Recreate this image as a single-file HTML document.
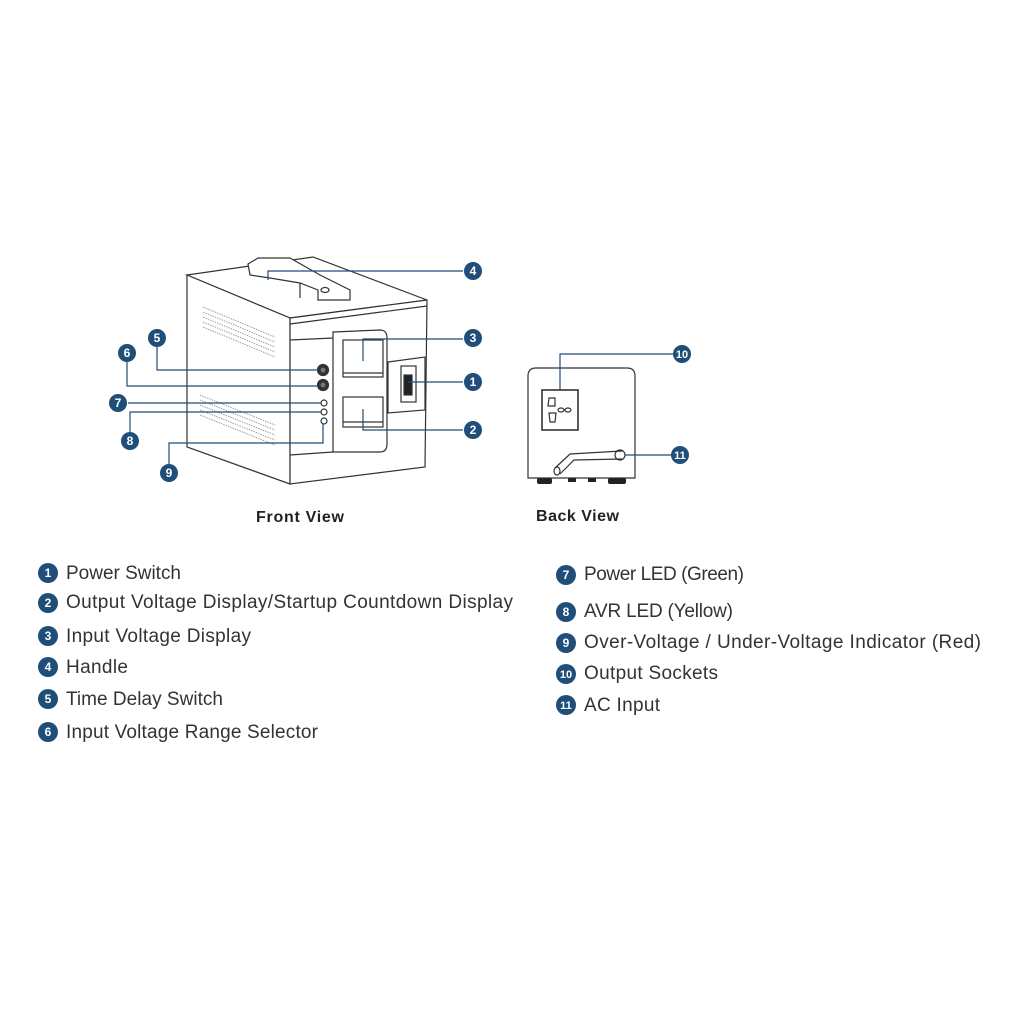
<!DOCTYPE html>
<html><head><meta charset="utf-8"><style>html,body{margin:0;padding:0;background:#fff}</style></head>
<body>
<svg width="1024" height="1024" viewBox="0 0 1024 1024" xmlns="http://www.w3.org/2000/svg" font-family="Liberation Sans, sans-serif">
<g fill="none" stroke="#333" stroke-width="1.2">
<!-- main box -->
<polygon points="187,275 313,257 427,300 290,318" fill="#fff"/>
<polygon points="187,275 290,318 290,484 187,447" fill="#fff"/>
<polygon points="290,318 427,300 425,467 290,484" fill="#fff"/>
<line x1="290" y1="324" x2="427" y2="306"/>
<!-- handle -->
<path d="M248,264 L258,258 L290,258 L320,275 L350,290 L350,300 L318,300 L318,290 L300,283 L270,278 L250,275 Z" fill="#fff"/>
<line x1="300" y1="283" x2="300" y2="298"/>
<ellipse cx="325" cy="290" rx="4" ry="2.5"/>
<!-- front panels -->
<line x1="290" y1="340" x2="333" y2="338"/>
<line x1="290" y1="455" x2="333" y2="452"/>
<path d="M333,332 L380,330 Q387,330 387,338 L387,444 Q387,452 380,452 L333,452 Z"/>
<rect x="343" y="340" width="40" height="37"/>
<line x1="343" y1="373" x2="383" y2="373"/>
<rect x="343" y="397" width="40" height="30"/>
<line x1="343" y1="422" x2="383" y2="422"/>
<polygon points="388,362 425,357 425,410 388,413"/>
<rect x="401" y="366" width="15" height="36"/>
<rect x="404" y="375" width="8" height="20" fill="#222"/>
<circle cx="323" cy="370" r="5.5" fill="#333"/><circle cx="323" cy="370" r="3" fill="#777"/>
<circle cx="323" cy="385" r="5.5" fill="#333"/><circle cx="323" cy="385" r="3" fill="#777"/>
<circle cx="324" cy="403" r="3"/><circle cx="324" cy="412" r="3"/><circle cx="324" cy="421" r="3"/>
</g>
<!-- vents -->
<g stroke="#888" stroke-width="0.8" stroke-dasharray="1.5,1">
<line x1="203" y1="307" x2="275" y2="337"/><line x1="203" y1="312" x2="275" y2="342"/><line x1="203" y1="317" x2="275" y2="347"/><line x1="203" y1="322" x2="275" y2="352"/><line x1="203" y1="327" x2="275" y2="357"/>
<line x1="200" y1="395" x2="275" y2="425"/><line x1="200" y1="400" x2="275" y2="430"/><line x1="200" y1="405" x2="275" y2="435"/><line x1="200" y1="410" x2="275" y2="440"/><line x1="200" y1="415" x2="275" y2="445"/>
</g>
<!-- back view -->
<g fill="none" stroke="#333" stroke-width="1.2">
<path d="M528,478 L528,376 Q528,368 536,368 L627,368 Q635,368 635,376 L635,478 Z" fill="#fff"/>
<rect x="542" y="390" width="36" height="40" stroke-width="1.6"/>
<path d="M549,398 h6 v8 h-7 z M549,413 h7 l-1,9 h-5 z"/>
<ellipse cx="561" cy="410" rx="3" ry="2"/><ellipse cx="568" cy="410" rx="3" ry="2"/>
<path d="M555,468 L570,454 L622,451 M560,474 L574,460 L622,459"/>
<ellipse cx="557" cy="471" rx="3" ry="4"/>
<circle cx="620" cy="455" r="5"/>
</g>
<g fill="#222"><rect x="537" y="478" width="15" height="6" rx="2"/><rect x="568" y="478" width="8" height="4"/><rect x="588" y="478" width="8" height="4"/><rect x="608" y="478" width="18" height="6" rx="2"/></g>
<!-- leader lines -->
<g fill="none" stroke="#1f4e79" stroke-width="1.2">
<polyline points="268,280 268,271 463,271"/>
<polyline points="363,361 363,339 463,339"/>
<polyline points="408,382 463,382"/>
<polyline points="363,409 363,430 463,430"/>
<polyline points="157,347 157,370 318,370"/>
<polyline points="127,362 127,386 318,386"/>
<polyline points="128,403 321,403"/>
<polyline points="130,432 130,412 321,412"/>
<polyline points="169,464 169,443 323,443 323,424"/>
<polyline points="560,390 560,354 673,354"/>
<polyline points="625,455 671,455"/>
</g>
<g fill="#1f4e79">
<circle cx="473" cy="271" r="9"/><circle cx="473" cy="338" r="9"/><circle cx="473" cy="382" r="9"/><circle cx="473" cy="430" r="9"/>
<circle cx="157" cy="338" r="9"/><circle cx="127" cy="353" r="9"/><circle cx="118" cy="403" r="9"/><circle cx="130" cy="441" r="9"/><circle cx="169" cy="473" r="9"/>
<circle cx="682" cy="354" r="9"/><circle cx="680" cy="455" r="9"/>
</g>
<g fill="#fff" font-weight="bold" font-size="12" text-anchor="middle">
<text x="473" y="275">4</text><text x="473" y="342">3</text><text x="473" y="386">1</text><text x="473" y="434">2</text>
<text x="157" y="342">5</text><text x="127" y="357">6</text><text x="118" y="407">7</text><text x="130" y="445">8</text><text x="169" y="477">9</text>
<text x="682" y="358" font-size="11">10</text><text x="680" y="459" font-size="11">11</text>
</g>
<g font-weight="bold" font-size="16" fill="#222">
<text x="256" y="522" textLength="88">Front View</text>
<text x="536" y="521" textLength="83">Back View</text>
</g>
<!-- legend -->
<g fill="#1f4e79">
<circle cx="48" cy="573" r="10"/><circle cx="48" cy="603" r="10"/><circle cx="48" cy="636" r="10"/><circle cx="48" cy="667" r="10"/><circle cx="48" cy="699" r="10"/><circle cx="48" cy="732" r="10"/>
<circle cx="566" cy="575" r="10"/><circle cx="566" cy="612" r="10"/><circle cx="566" cy="643" r="10"/><circle cx="566" cy="674" r="10"/><circle cx="566" cy="705" r="10"/>
</g>
<g fill="#fff" font-weight="bold" font-size="12" text-anchor="middle">
<text x="48" y="577">1</text><text x="48" y="607">2</text><text x="48" y="640">3</text><text x="48" y="671">4</text><text x="48" y="703">5</text><text x="48" y="736">6</text>
<text x="566" y="579">7</text><text x="566" y="616">8</text><text x="566" y="647">9</text><text x="566" y="678" font-size="11">10</text><text x="566" y="709" font-size="11">11</text>
</g>
<g fill="#333" font-size="19">
<text x="66" y="579" textLength="115">Power Switch</text>
<text x="66" y="608" textLength="447">Output Voltage Display/Startup Countdown Display</text>
<text x="66" y="642" textLength="185">Input Voltage Display</text>
<text x="66" y="673" textLength="62">Handle</text>
<text x="66" y="705" textLength="157">Time Delay Switch</text>
<text x="66" y="738" textLength="252">Input Voltage Range Selector</text>
<text x="584" y="580" textLength="160">Power LED (Green)</text>
<text x="584" y="617" textLength="149">AVR LED (Yellow)</text>
<text x="584" y="648" textLength="397">Over-Voltage / Under-Voltage Indicator (Red)</text>
<text x="584" y="679" textLength="134">Output Sockets</text>
<text x="584" y="711" textLength="76">AC Input</text>
</g>
</svg>
</body></html>
